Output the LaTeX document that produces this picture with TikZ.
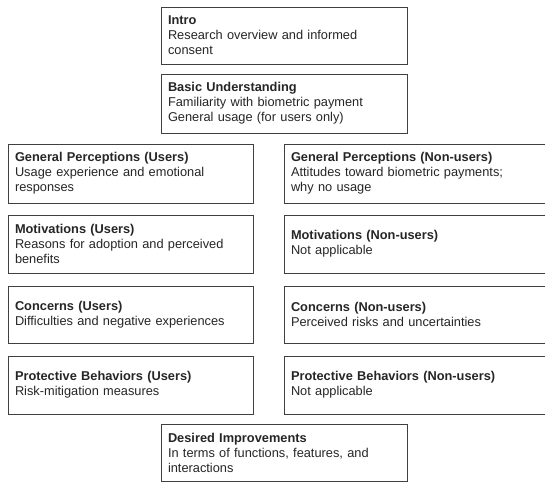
\documentclass[tikz,border=0pt]{standalone}
\usepackage{fontspec}
\setmainfont{Liberation Sans}
\usetikzlibrary{shadows}

\begin{document}
\begin{tikzpicture}[
    x=1pt, y=-1pt,
    every node/.style={inner sep=0pt},
    box/.style={draw=black!75, line width=0.8pt, fill=white, text=black!85,
        align=left, inner xsep=7pt, font=\fontsize{12.8}{15}\selectfont,
        drop shadow={opacity=0.25, shadow xshift=0.8pt, shadow yshift=-0.8pt}},
    mid/.style={box, text width=232pt, minimum width=246pt},
    side/.style={box, text width=262pt, minimum width=276pt}
]
\useasboundingbox (0,0) rectangle (545,482);

% Centre column
\node[mid, minimum height=57pt] (intro) at (284,35.5)
    {\textbf{Intro}\\Research overview and informed\\consent};
\node[mid, minimum height=59pt] (basic) at (284,103.5)
    {\textbf{Basic Understanding}\\Familiarity with biometric payment\\General usage (for users only)};

% Users
\node[mid, text width=231pt, minimum width=245pt, minimum height=59pt] (gpu) at (130.5,173.5)
    {\textbf{General Perceptions (Users)}\\Usage experience and emotional\\responses};
\node[mid, text width=231pt, minimum width=245pt, minimum height=58pt] (motu) at (130.5,244)
    {\textbf{Motivations (Users)}\\Reasons for adoption and perceived\\benefits};
\node[mid, text width=231pt, minimum width=245pt, minimum height=57pt] (conu) at (130.5,314.5)
    {\textbf{Concerns (Users)}\\Difficulties and negative experiences};
\node[mid, text width=231pt, minimum width=245pt, minimum height=58pt] (prou) at (130.5,385)
    {\textbf{Protective Behaviors (Users)}\\Risk-mitigation measures};

% Non-users
\node[side, minimum height=59pt] (gpn) at (422,173.5)
    {\textbf{General Perceptions (Non-users)}\\Attitudes toward biometric payments;\\why no usage};
\node[side, minimum height=58pt] (motn) at (422,244)
    {\textbf{Motivations (Non-users)}\\Not applicable};
\node[side, minimum height=57pt] (conn) at (422,314.5)
    {\textbf{Concerns (Non-users)}\\Perceived risks and uncertainties};
\node[side, minimum height=58pt] (pron) at (422,385)
    {\textbf{Protective Behaviors (Non-users)}\\Not applicable};

% Closing
\node[mid, minimum height=57pt] (desired) at (284,452.5)
    {\textbf{Desired Improvements}\\In terms of functions, features, and\\interactions};
\end{tikzpicture}
\end{document}
